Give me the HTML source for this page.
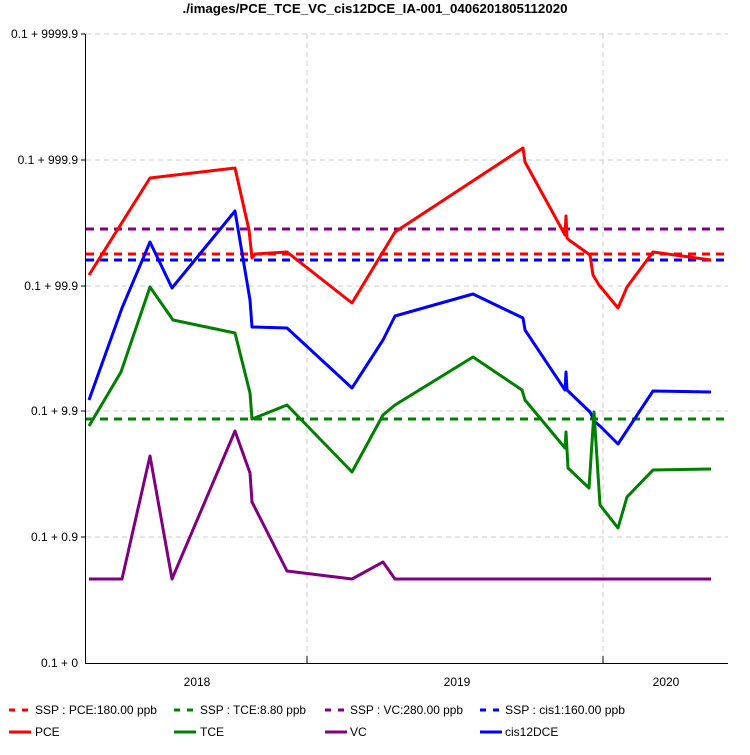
<!DOCTYPE html><html><head><meta charset="utf-8"><style>body{margin:0;background:#fff}svg{font-family:"Liberation Sans",sans-serif}</style></head><body>
<svg width="750" height="750" xmlns="http://www.w3.org/2000/svg">
<text x="375" y="13" text-anchor="middle" font-size="13" font-weight="bold" textLength="385" lengthAdjust="spacingAndGlyphs">./images/PCE_TCE_VC_cis12DCE_IA-001_0406201805112020</text>
<g stroke="#ccc" stroke-dasharray="5,4" stroke-width="1">
<line x1="86" x2="728" y1="34" y2="34"/><line x1="86" x2="728" y1="160" y2="160"/><line x1="86" x2="728" y1="286" y2="286"/><line x1="86" x2="728" y1="411" y2="411"/><line x1="86" x2="728" y1="537" y2="537"/>
<line x1="307" x2="307" y1="34" y2="663"/><line x1="603" x2="603" y1="34" y2="663"/></g>
<g stroke="#000" stroke-width="1"><line x1="85.5" x2="85.5" y1="34" y2="663"/><line x1="85" x2="728" y1="663.5" y2="663.5"/>
<line x1="81" x2="85" y1="34" y2="34"/><line x1="81" x2="85" y1="160" y2="160"/><line x1="81" x2="85" y1="286" y2="286"/><line x1="81" x2="85" y1="411" y2="411"/><line x1="81" x2="85" y1="537" y2="537"/>
<line x1="307" x2="307" y1="656" y2="663"/><line x1="603" x2="603" y1="656" y2="663"/></g>
<g font-size="12" text-anchor="end"><text x="78" y="38">0.1 + 9999.9</text><text x="78" y="164">0.1 + 999.9</text><text x="78" y="290">0.1 + 99.9</text><text x="78" y="415">0.1 + 9.9</text><text x="78" y="541">0.1 + 0.9</text><text x="78" y="667">0.1 + 0</text></g>
<g font-size="12" text-anchor="middle"><text x="197" y="686">2018</text><text x="457" y="686">2019</text><text x="666" y="686">2020</text></g>
<g stroke-width="3" stroke-dasharray="8,6" fill="none">
<line x1="86" x2="728" y1="229" y2="229" stroke="#800080"/><line x1="86" x2="728" y1="254" y2="254" stroke="red"/><line x1="86" x2="728" y1="260" y2="260" stroke="blue"/><line x1="86" x2="728" y1="419" y2="419" stroke="green"/></g>
<g stroke-width="3" fill="none" stroke-linejoin="round">
<polyline stroke="red" points="89,275 150,178 235,168 249,230 252,258 255,254 287,252 352,303 395,232 523,148 525,162 565,235 566,216 567,238 569,240 590,255 593,275 599,285 618,308 627,287 653,252 711,260"/>
<polyline stroke="blue" points="89,400 122,308 150,242 172,288 235,211 250,300 252,327 287,328 352,388 383,340 395,316 473,294 523,318 525,330 565,390 566,372 567,390 590,412 595,422 600,426 618,444 653,391 711,392"/>
<polyline stroke="green" points="89,426 121,372 150,287 173,320 235,333 250,393 252,419 287,405 352,472 383,415 395,405 473,357 522,390 525,400 565,448 566,432 568,468 589,488 594,412 600,505 618,528 627,497 653,470 711,469"/>
<polyline stroke="#800080" points="89,579 122,579 150,456 172,579 235,431 250,473 252,502 287,571 352,579 383,562 395,579 711,579"/>
</g>
<g font-size="12">
<g stroke-width="3"><line x1="9" x2="31" y1="710" y2="710" stroke="red" stroke-dasharray="6,7"/><line x1="174" x2="196" y1="710" y2="710" stroke="green" stroke-dasharray="6,7"/><line x1="325" x2="347" y1="710" y2="710" stroke="#800080" stroke-dasharray="6,7"/><line x1="480" x2="502" y1="710" y2="710" stroke="blue" stroke-dasharray="6,7"/>
<line x1="9" x2="31" y1="732" y2="732" stroke="red"/><line x1="174" x2="196" y1="732" y2="732" stroke="green"/><line x1="325" x2="347" y1="732" y2="732" stroke="#800080"/><line x1="480" x2="502" y1="732" y2="732" stroke="blue"/></g>
<text x="35" y="714" textLength="122" lengthAdjust="spacingAndGlyphs">SSP : PCE:180.00 ppb</text><text x="200" y="714" textLength="106" lengthAdjust="spacingAndGlyphs">SSP : TCE:8.80 ppb</text><text x="350" y="714" textLength="113" lengthAdjust="spacingAndGlyphs">SSP : VC:280.00 ppb</text><text x="505" y="714" textLength="120" lengthAdjust="spacingAndGlyphs">SSP : cis1:160.00 ppb</text>
<text x="35" y="736">PCE</text><text x="200" y="736">TCE</text><text x="350" y="736">VC</text><text x="505" y="736">cis12DCE</text></g>
</svg></body></html>
